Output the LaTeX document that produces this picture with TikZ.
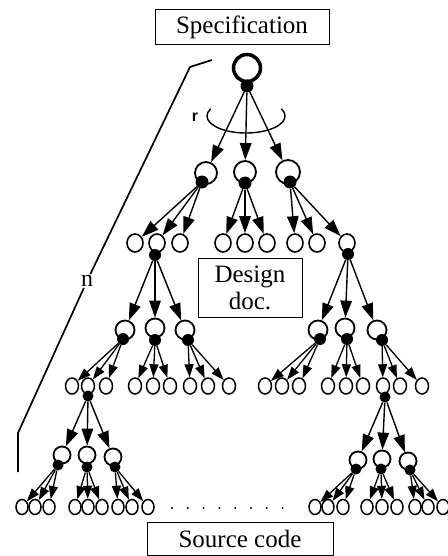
\documentclass[tikz,border=0pt]{standalone}
\usepackage{fontspec}
\setmainfont{Liberation Serif}
\newfontfamily\rfont{Liberation Sans}
\usetikzlibrary{arrows.meta,shapes.geometric,calc}
\begin{document}
\begin{tikzpicture}[x=1pt,y=-1pt,
  ocirc/.style={circle,draw,fill=white,line width=1.8pt,inner sep=0pt,minimum size=#1},
  dotn/.style={circle,fill=black,inner sep=0pt,minimum size=#1},
  leafA/.style={ellipse,draw,fill=white,line width=1.6pt,inner sep=0pt,minimum width=16pt,minimum height=18pt},
  leafB/.style={ellipse,draw,fill=white,line width=1.5pt,inner sep=0pt,minimum width=13pt,minimum height=16pt},
  leafC/.style={ellipse,draw,fill=white,line width=1.5pt,inner sep=0pt,minimum width=12pt,minimum height=15pt},
  arrA/.style={line width=1.4pt,-{Triangle[length=17pt,width=11.5pt]}},
  arrB/.style={line width=1.3pt,-{Triangle[length=13pt,width=9pt]}},
  lbox/.style={draw,line width=1pt,inner sep=0pt,font=\fontsize{25}{27}\selectfont,align=center},
  pdot/.style={circle,fill=black,inner sep=0pt,minimum size=2.2pt}]
\useasboundingbox (0,0) rectangle (447,556);

% labels
\node[lbox,minimum width=174pt,minimum height=35pt] (spec) at (242,27.5) {Specification};
\node[lbox,minimum width=104pt,minimum height=59pt] (design) at (250,287.5) {Design\\doc.};
\node[lbox,minimum width=186pt,minimum height=33pt] (source) at (240,538.5) {Source code};

% n line
\coordinate (n1) at (212,60);
\coordinate (n2) at (190,67);
\coordinate (n3) at (18,433);
\coordinate (n4) at (18,472);
\node[font=\fontsize{24}{24}\selectfont,inner sep=1pt] (nlab) at (87,281) {n};
\draw[line width=1.7pt] (n1) -- (n2) -- (nlab);
\draw[line width=1.7pt] (nlab) -- (n3) -- (n4);

% r arc
\node[font=\rfont\bfseries\fontsize{16}{16}\selectfont] (rlab) at (195,117) {r};
\coordinate (rc) at (246,116);
\draw[line width=1.4pt] ($(rc)+({39*cos(-25)},{17*sin(-25)})$) arc[start angle=-25,end angle=205,x radius=39,y radius=17];

% root
\node[ocirc=27pt,line width=3.5pt] (R) at (247,68) {};
\node[dotn=13pt] (Rd) at (247,86) {};

% level 1
\node[ocirc=22pt] (A1) at (206,173) {};
\node[ocirc=22pt] (A2) at (245,172) {};
\node[ocirc=24pt] (A3) at (288,172) {};
\node[dotn=13pt] (A1d) at (202,182) {};
\node[dotn=13pt] (A2d) at (245,183) {};
\node[dotn=13pt] (A3d) at (290,182) {};

% level 2
\foreach \nm/\xx in {L1/135,L2/157,L3/180,L4/223,L5/245,L6/267,L7/295,L8/317,L9/347}
  \node[leafA] (\nm) at (\xx,243) {};
\node[dotn=12pt] (L2d) at (155,255) {};
\node[dotn=12pt] (L9d) at (348,254) {};

% level 3
\node[ocirc=19pt] (B1) at (125,330) {};
\node[ocirc=19pt] (B2) at (155,328) {};
\node[ocirc=19pt] (B3) at (185,330) {};
\node[ocirc=19pt] (B4) at (318,330) {};
\node[ocirc=19pt] (B5) at (345,328) {};
\node[ocirc=19pt] (B6) at (377,330) {};
\node[dotn=12pt] (B1d) at (123,339) {};
\node[dotn=12pt] (B2d) at (155,340) {};
\node[dotn=12pt] (B3d) at (188,340) {};
\node[dotn=12pt] (B4d) at (320,339) {};
\node[dotn=12pt] (B5d) at (347,339) {};
\node[dotn=12pt] (B6d) at (382,340) {};

% level 4
\foreach \nm/\xx in {M1/72,M2/88,M3/106,M4/135,M5/153,M6/170,M7/190,M8/208,M9/229,
  M10/265,M11/282,M12/299,M13/328,M14/346,M15/363,M16/383,M17/400,M18/422}
  \node[leafB] (\nm) at (\xx,386) {};
\node[dotn=11pt] (M2d) at (88,396) {};
\node[dotn=11pt] (M16d) at (385,397) {};

% level 5
\node[ocirc=17pt] (C1) at (62,455) {};
\node[ocirc=17pt] (C2) at (87,455) {};
\node[ocirc=17pt] (C3) at (113,457) {};
\node[ocirc=17pt] (C4) at (358,460) {};
\node[ocirc=17pt] (C5) at (382,459) {};
\node[ocirc=17pt] (C6) at (408,461) {};
\node[dotn=11pt] (C1d) at (58,465) {};
\node[dotn=11pt] (C2d) at (87,467) {};
\node[dotn=11pt] (C3d) at (115,467) {};
\node[dotn=11pt] (C4d) at (356,469) {};
\node[dotn=11pt] (C5d) at (381,469) {};
\node[dotn=11pt] (C6d) at (410,470) {};

% level 6
\foreach \nm/\xx in {N1/22,N2/35,N3/49,N4/75,N5/88,N6/102,N7/118,N8/132,N9/148,
  N10/315,N11/328,N12/343,N13/367,N14/382,N15/397,N16/415,N17/428,N18/443}
  \node[leafC] (\nm) at (\xx,507) {};

% ellipsis dots
\foreach \i in {0,...,7}
  \node[pdot] (pd\i) at ({172+15.8*\i},508) {};

% arrows
\foreach \t in {A1,A2,A3} \draw[arrA] (Rd) -- (\t);
\foreach \t in {L1,L2,L3} \draw[arrA] (A1d) -- (\t);
\foreach \t in {L4,L5,L6} \draw[arrA] (A2d) -- (\t);
\foreach \t in {L7,L8,L9} \draw[arrA] (A3d) -- (\t);
\foreach \t in {B1,B2,B3} \draw[arrA] (L2d) -- (\t);
\foreach \t in {B4,B5,B6} \draw[arrA] (L9d) -- (\t);
\foreach \t in {M1,M2,M3} \draw[arrB] (B1d) -- (\t);
\foreach \t in {M4,M5,M6} \draw[arrB] (B2d) -- (\t);
\foreach \t in {M7,M8,M9} \draw[arrB] (B3d) -- (\t);
\foreach \t in {M10,M11,M12} \draw[arrB] (B4d) -- (\t);
\foreach \t in {M13,M14,M15} \draw[arrB] (B5d) -- (\t);
\foreach \t in {M16,M17,M18} \draw[arrB] (B6d) -- (\t);
\foreach \t in {C1,C2,C3} \draw[arrA] (M2d) -- (\t);
\foreach \t in {C4,C5,C6} \draw[arrA] (M16d) -- (\t);
\foreach \t in {N1,N2,N3} \draw[arrB] (C1d) -- (\t);
\foreach \t in {N4,N5,N6} \draw[arrB] (C2d) -- (\t);
\foreach \t in {N7,N8,N9} \draw[arrB] (C3d) -- (\t);
\foreach \t in {N10,N11,N12} \draw[arrB] (C4d) -- (\t);
\foreach \t in {N13,N14,N15} \draw[arrB] (C5d) -- (\t);
\foreach \t in {N16,N17,N18} \draw[arrB] (C6d) -- (\t);
\end{tikzpicture}
\end{document}
